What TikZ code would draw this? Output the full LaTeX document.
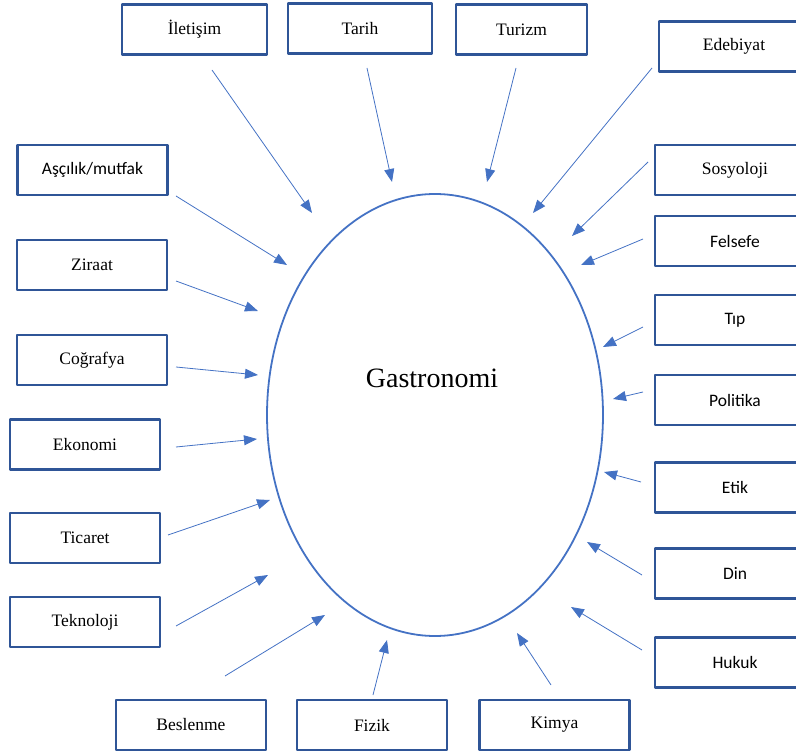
\documentclass[tikz,border=0pt]{standalone}
\usepackage{fontspec}
\setmainfont{Liberation Serif}
\newfontfamily\sansfnt{Carlito}
\usetikzlibrary{arrows.meta,shapes.geometric}
\definecolor{boxblue}{HTML}{2F5597}
\definecolor{ovalblue}{HTML}{4472C4}
\begin{document}
\begin{tikzpicture}[x=1pt,y=-1pt,line join=round,
	box/.style={draw=boxblue, line width=2.2pt, minimum width=150pt, minimum height=50pt, inner sep=0pt, font=\fontsize{17.5}{20}\selectfont},
	sbox/.style={box, font=\sansfnt\fontsize{17.5}{20}\selectfont},
	arr/.style={draw=ovalblue, line width=0.8pt, -{Triangle[length=13pt,width=10pt]}}]
	\useasboundingbox (0,0) rectangle (796,751);
	% central oval
	\node[draw=ovalblue, line width=1.8pt, ellipse, minimum width=336pt, minimum height=442pt] (gastro) at (435,415) {};
	\node[font=\fontsize{28}{32}\selectfont] (gastrolbl) at (432,378) {Gastronomi};
	% top row
	\node[box, minimum width=145pt] (iletisim) at (194.5,29.5) {İletişim};
	\node[box, minimum width=144pt] (tarih) at (360,28.5) {Tarih};
	\node[box, minimum width=131pt] (turizm) at (521.5,29.5) {Turizm};
	\node[box] (edebiyat) at (734,46.5) {Edebiyat};
	% left column
	\node[sbox] (ascilik) at (92.5,170) {Aşçılık/mutfak};
	\node[box] (ziraat) at (92,265) {Ziraat};
	\node[box] (cografya) at (92,360) {Coğrafya};
	\node[box] (ekonomi) at (85,444.5) {Ekonomi};
	\node[box] (ticaret) at (85,538) {Ticaret};
	\node[box] (teknoloji) at (85,622) {Teknoloji};
	% bottom row
	\node[box] (beslenme) at (191,725) {Beslenme};
	\node[box] (fizik) at (372,725) {Fizik};
	\node[box] (kimya) at (554.5,725) {Kimya};
	% right column
	\node[box, minimum width=160pt] (sosyoloji) at (735,170) {Sosyoloji};
	\node[sbox, minimum width=160pt] (felsefe) at (735,241) {Felsefe};
	\node[sbox, minimum width=160pt] (tip) at (735,320) {Tıp};
	\node[sbox, minimum width=160pt] (politika) at (735,400) {Politika};
	\node[sbox, minimum width=160pt] (etik) at (735,487.5) {Etik};
	\node[sbox, minimum width=160pt] (din) at (735,573.5) {Din};
	\node[sbox, minimum width=160pt] (hukuk) at (735,662.5) {Hukuk};
	% arrows towards the oval
	\foreach \n/\sx/\sy/\ex/\ey in {
		iletisim/212/70/312/213, tarih/367/68/392/182, turizm/516/68/487/182,
		edebiyat/652/68/533/213, ascilik/176/196/287/265, sosyoloji/648/162/572/236,
		felsefe/643/239/581/265, ziraat/176/281/258/311, tip/643/327/603/347,
		cografya/176/367/258/375, politika/643/392/613/399, ekonomi/176/447/257/439,
		etik/641/482/604/472, ticaret/168/535/270/500, din/642/575/587/542,
		teknoloji/176/626/268/575, hukuk/642/650/571/607, beslenme/225/676/325/615,
		fizik/373/695/387/640, kimya/551/685/517/633}
	{
		\coordinate (s-\n) at (\sx,\sy);
		\coordinate (e-\n) at (\ex,\ey);
		\draw[arr] (s-\n) -- (e-\n);
	}
\end{tikzpicture}
\end{document}
